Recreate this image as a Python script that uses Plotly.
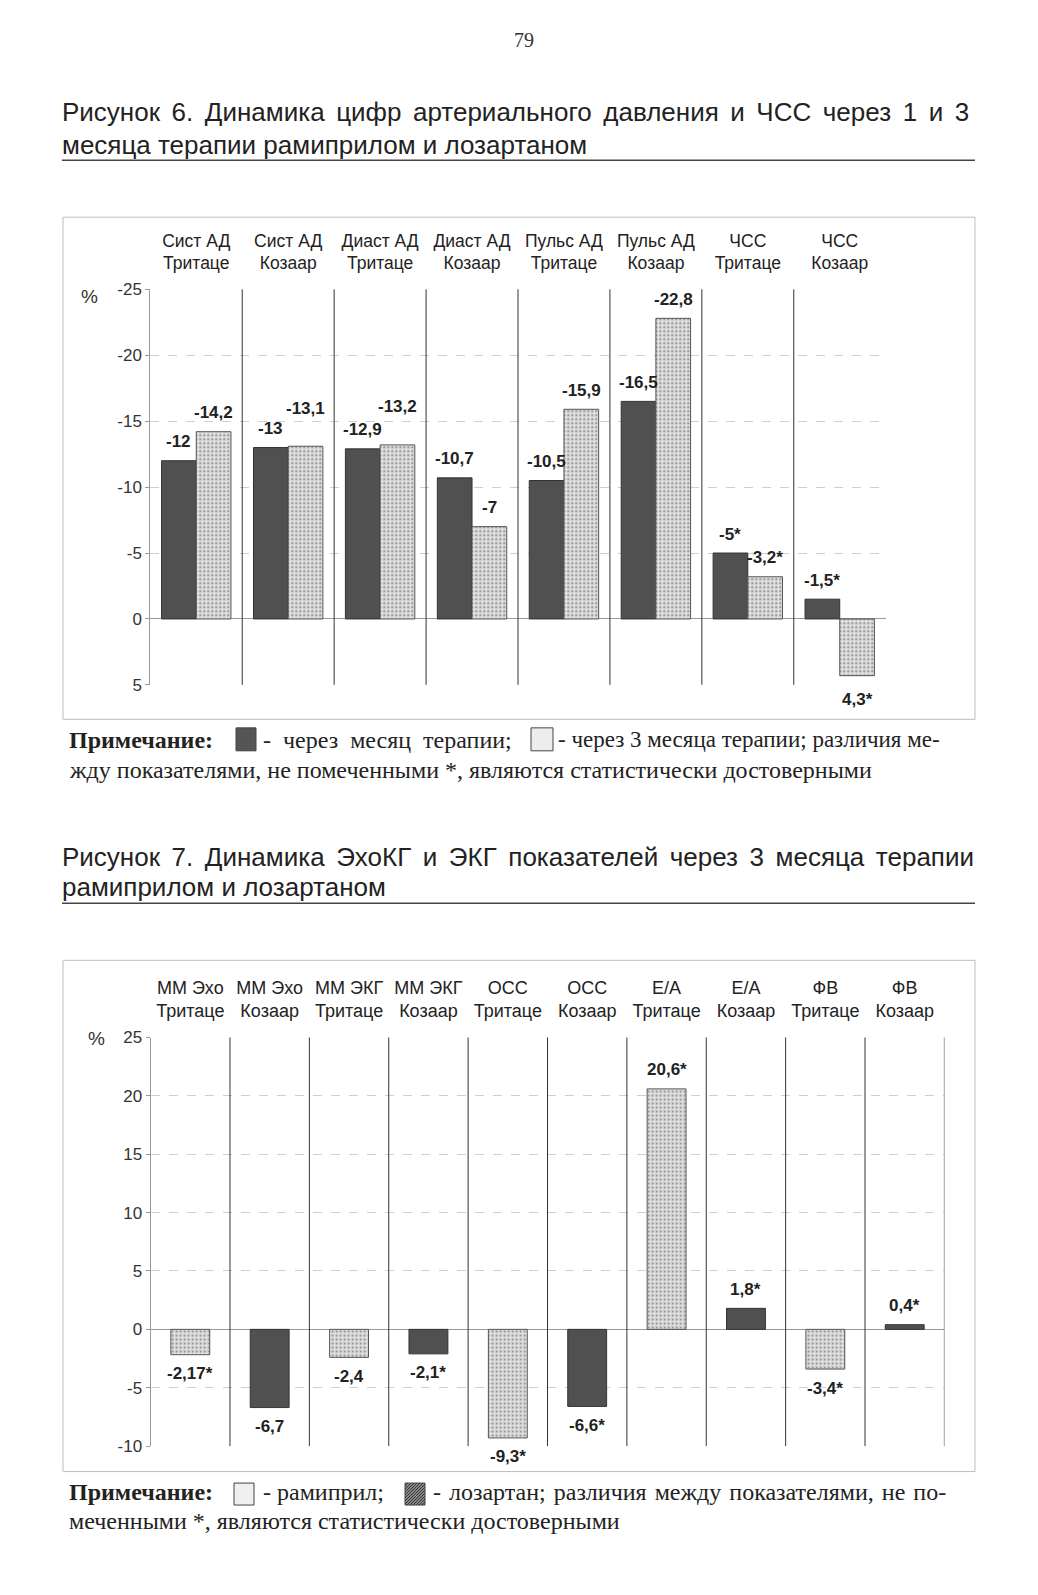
import plotly.graph_objects as go

# ---------------- data ----------------
cats1 = ["Сист АД<br>Тритаце", "Сист АД<br>Козаар", "Диаст АД<br>Тритаце", "Диаст АД<br>Козаар",
         "Пульс АД<br>Тритаце", "Пульс АД<br>Козаар", "ЧСС<br>Тритаце", "ЧСС<br>Козаар"]
month1 = [-12, -13, -12.9, -10.7, -10.5, -16.5, -5, -1.5]
month3 = [-14.2, -13.1, -13.2, -7, -15.9, -22.8, -3.2, 4.3]
month1_star = [False, False, False, False, False, False, True, True]
month3_star = [False, False, False, False, False, False, True, True]
y1_ticks = [-25, -20, -15, -10, -5, 0, 5]

cats2 = ["ММ Эхо<br>Тритаце", "ММ Эхо<br>Козаар", "ММ ЭКГ<br>Тритаце", "ММ ЭКГ<br>Козаар",
         "ОСС<br>Тритаце", "ОСС<br>Козаар", "E/A<br>Тритаце", "E/A<br>Козаар",
         "ФВ<br>Тритаце", "ФВ<br>Козаар"]
ramipril = [-2.17, -2.4, -9.3, 20.6, -3.4]          # Тритаце categories
ramipril_star = [True, False, True, True, True]
losartan = [-6.7, -2.1, -6.6, 1.8, 0.4]             # Козаар categories
losartan_star = [False, True, True, True, True]
y2_ticks = [-10, -5, 0, 5, 10, 15, 20, 25]

# ---------------- helpers ----------------
PAGE_W, PAGE_H = 1038, 1595
M = 8                      # default body margin of the html page
W, H = PAGE_W - 2 * M, PAGE_H - 2 * M
def px(x): return (x - M) / W
def py(y):
    ys = (y - 8.5) / 0.989          # empirical vertical correction
    return 1 - (ys - M) / H
def fmt(v, star): return f"{v:g}".replace(".", ",") + ("*" if star else "")
def justify(s, sp="\u2006"): return s.replace(" ", " " + sp)

NARROW = "Liberation Sans Narrow, Arial Narrow, Liberation Sans, sans-serif"
SANS = "Liberation Sans, Arial, sans-serif"
SERIF = "Liberation Serif, Times New Roman, serif"

DARK = "#505050"
LIGHT_PAT = dict(shape=".", bgcolor="#e2e2e2", fgcolor="#9a9a9a", size=4, solidity=0.3, fillmode="replace")
LABEL_FONT = dict(family=NARROW, size=17, color="#222", weight="bold")

BARGAP = 0.245
X1_LEFT, X1_RIGHT = 150.3, 885.7
X2_LEFT, X2_RIGHT = 150.6, 944.4

fig = go.Figure()

# chart 1
fig.add_trace(go.Bar(
    x=cats1, y=month1, xaxis="x", yaxis="y", name="через месяц терапии",
    marker=dict(color=DARK, line=dict(color="#333", width=1)), showlegend=False))
fig.add_trace(go.Bar(
    x=cats1, y=month3, xaxis="x", yaxis="y", name="через 3 месяца терапии",
    marker=dict(color="#e2e2e2", pattern=LIGHT_PAT, line=dict(color="#555", width=1)),
    showlegend=False))

# chart 2
fig.add_trace(go.Bar(
    x=cats2[0::2], y=ramipril, xaxis="x2", yaxis="y2", width=0.49, offset=-0.245, name="рамиприл",
    marker=dict(color="#e2e2e2", pattern=LIGHT_PAT, line=dict(color="#555", width=1)),
    showlegend=False))
fig.add_trace(go.Bar(
    x=cats2[1::2], y=losartan, xaxis="x2", yaxis="y2", width=0.49, offset=-0.245, name="лозартан",
    marker=dict(color=DARK, line=dict(color="#333", width=1)), showlegend=False))

xcommon = dict(type="category", side="top", showgrid=False, zeroline=False, showline=False,
               ticks="outside", ticklen=12, tickcolor="rgba(0,0,0,0)")
ycommon = dict(showgrid=True, gridcolor="#cfcfcf", griddash="dash", gridwidth=1,
               zeroline=True, zerolinecolor="#999", zerolinewidth=1,
               showline=True, linecolor="#999", linewidth=1,
               ticks="outside", ticklen=4, tickcolor="#999",
               tickfont=dict(family=NARROW, size=17, color="#333"))

fig.update_layout(
    width=W, height=H, margin=dict(l=0, r=0, t=0, b=0),
    paper_bgcolor="white", plot_bgcolor="white",
    barmode="group", bargap=BARGAP, bargroupgap=0,
    xaxis=dict(xcommon, domain=[px(X1_LEFT), px(X1_RIGHT)], anchor="y",
               tickfont=dict(family=NARROW, size=17.5, color="#222"),
               categoryorder="array", categoryarray=cats1, range=[-0.5, len(cats1) - 0.5]),
    yaxis=dict(ycommon, domain=[py(685), py(289)], anchor="x", range=[5, -25],
               tickvals=y1_ticks, ticktext=[f"{t:g}" for t in y1_ticks]),
    xaxis2=dict(xcommon, domain=[px(X2_LEFT), px(X2_RIGHT)], anchor="y2",
                tickfont=dict(family=NARROW, size=18, color="#222"),
                categoryorder="array", categoryarray=cats2, range=[-0.5, len(cats2) - 0.5]),
    yaxis2=dict(ycommon, domain=[py(1447), py(1038)], anchor="x2", range=[-10, 25],
                tickvals=y2_ticks, ticktext=[f"{t:g}" for t in y2_ticks]),
)

shapes = []
# frames
for y0, y1 in [(216.8, 719.5), (960.7, 1472.5)]:
    shapes.append(dict(type="rect", xref="paper", yref="paper", x0=px(63), x1=px(975),
                       y0=py(y1), y1=py(y0), line=dict(color="#bdbdbd", width=1)))
# title underlines
for yy in [159.8, 903.6]:
    shapes.append(dict(type="line", xref="paper", yref="paper", x0=px(62), x1=px(975),
                       y0=py(yy), y1=py(yy), line=dict(color="#444", width=1.5)))
# category separators
for i in range(len(cats1) - 1):
    shapes.append(dict(type="line", xref="x", yref="y domain", x0=i + 0.5, x1=i + 0.5,
                       y0=0, y1=1, line=dict(color="#333", width=1)))
for i in range(len(cats2)):
    shapes.append(dict(type="line", xref="x2", yref="y2 domain", x0=i + 0.5, x1=i + 0.5,
                       y0=0, y1=1, line=dict(color="#333", width=1)))

# legend swatches in notes
def swatch(x0, x1, y0, y1, fill, hatch=False):
    shapes.append(dict(type="rect", xref="paper", yref="paper", x0=px(x0), x1=px(x1),
                       y0=py(y1), y1=py(y0), fillcolor=fill, line=dict(color="#444", width=1)))
    if hatch:
        w, h = x1 - x0, y1 - y0
        c = -w
        while c < h:
            u0, u1 = max(0, -c), min(w, h - c)
            if u1 > u0:
                shapes.append(dict(type="line", xref="paper", yref="paper",
                                   x0=px(x0 + u0), y0=py(y1 - (u0 + c)),
                                   x1=px(x0 + u1), y1=py(y1 - (u1 + c)),
                                   line=dict(color="#333", width=1)))
            c += 3

swatch(236, 256, 728, 751, "#555")
swatch(531, 553, 728, 751, "#ececec")
swatch(234, 254, 1484, 1506, "#f0f0f0")
swatch(405, 425, 1484, 1506, "#8a8a8a", hatch=True)

fig.update_layout(shapes=shapes)

ann = []
def text(x, y, s, font, size, color="#222", xanchor="left"):
    ann.append(dict(x=px(x), y=py(y), xref="paper", yref="paper", text=s, showarrow=False,
                    xanchor=xanchor, yanchor="middle", borderpad=0,
                    font=dict(family=font, size=size, color=color)))

# value labels beside the bar ends
GAP_PX = 19
def bar_label(cat, v, star, xref, yref, xshift, reversed_axis, extra=0):
    up = (v < 0) if reversed_axis else (v > 0)
    ys = (GAP_PX + extra) if up else -(GAP_PX + (5 if reversed_axis else 0))
    ann.append(dict(x=cat, y=v, xref=xref, yref=yref, text=fmt(v, star), showarrow=False,
                    xanchor="center", yanchor="middle", xshift=xshift, yshift=ys,
                    font=LABEL_FONT))

cat1_px = (X1_RIGHT - X1_LEFT) / len(cats1)
bar1_shift = cat1_px * (1 - BARGAP) / 4
for c, a, sa, b, sb in zip(cats1, month1, month1_star, month3, month3_star):
    bar_label(c, a, sa, "x", "y", -bar1_shift, True)
    crowded = abs(a - b) < 1
    bar_label(c, b, sb, "x", "y", bar1_shift, True, extra=GAP_PX if crowded else 0)
for c, v, s in zip(cats2[0::2], ramipril, ramipril_star):
    bar_label(c, v, s, "x2", "y2", 0, False)
for c, v, s in zip(cats2[1::2], losartan, losartan_star):
    bar_label(c, v, s, "x2", "y2", 0, False)

text(524, 39, "79", SERIF, 20, "#333", xanchor="center")
text(61, 112, justify("Рисунок 6. Динамика цифр артериального давления и ЧСС через 1 и 3"), SANS, 26)
text(61, 144.5, "месяца терапии рамиприлом и лозартаном", SANS, 26)
text(61, 857, justify("Рисунок 7. Динамика ЭхоКГ и ЭКГ показателей через 3 месяца терапии"), SANS, 26)
text(61, 887, "рамиприлом и лозартаном", SANS, 26)

text(89.6, 296, "%", SANS, 19, "#333", xanchor="center")
text(96.7, 1039, "%", SANS, 19, "#333", xanchor="center")

text(68, 740, "<b>Примечание:</b>", SERIF, 24)
text(262, 740, justify("- через месяц терапии;", "\u2005"), SERIF, 24)
text(557, 740, "- через 3 месяца терапии; различия ме-", SERIF, 23)
text(68, 770, "жду показателями, не помеченными *, являются статистически достоверными", SERIF, 24)

text(68, 1493, "<b>Примечание:</b>", SERIF, 24)
text(262, 1493, "- рамиприл;", SERIF, 24)
text(432, 1493, justify("- лозартан; различия между показателями, не по-", "\u200a"), SERIF, 24)
text(68, 1522, "меченными *, являются статистически достоверными", SERIF, 24)

fig.update_layout(annotations=ann)
fig.write_html("out.html")
